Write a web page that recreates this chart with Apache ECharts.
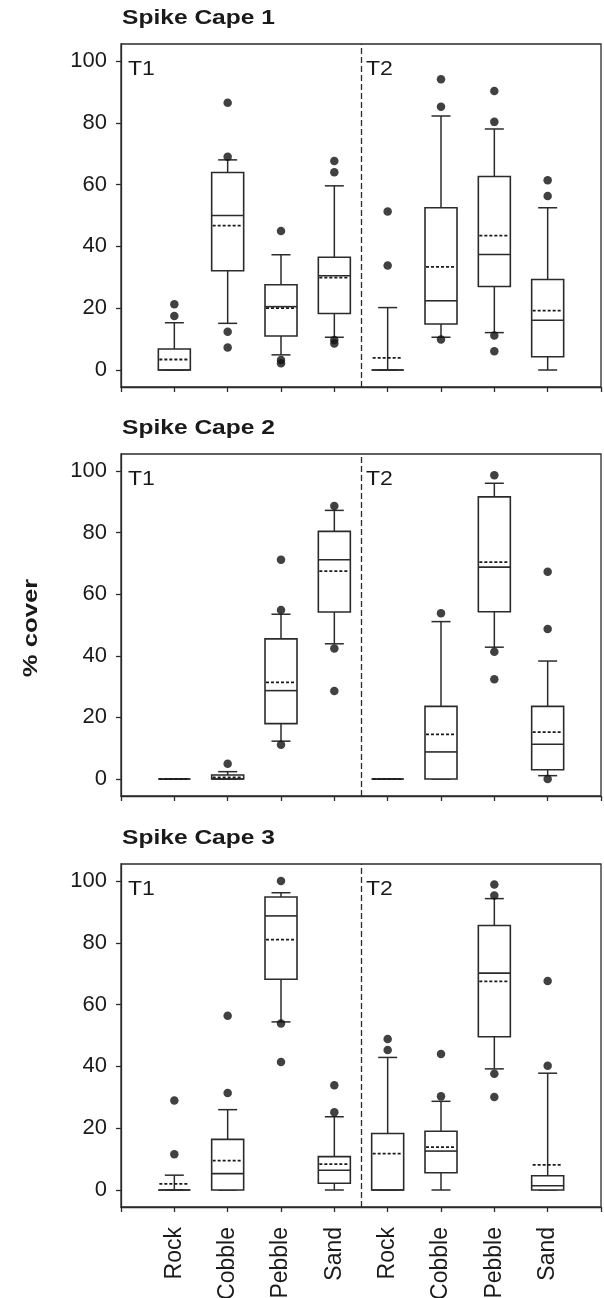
<!DOCTYPE html>
<html>
<head>
<meta charset="utf-8">
<script src="https://cdn.jsdelivr.net/npm/echarts@6/dist/echarts.min.js"></script>
<style>
  html, body { margin: 0; padding: 0; background: #fff; }
  #chart { width: 604px; height: 1298px; }
</style>
</head>
<body>
<div id="chart"></div>
<script>
// ---------- data ----------
const categories = ['Rock', 'Cobble', 'Pebble', 'Sand', 'Rock', 'Cobble', 'Pebble', 'Sand'];
const yTicks = [0, 20, 40, 60, 80, 100];
const panelTitles = ['Spike Cape 1', 'Spike Cape 2', 'Spike Cape 3'];
const groupLabels = ['T1', 'T2'];
const yLabel = '% cover';

// each row: [whiskerLow, q1, median, q3, whiskerHigh, mean]
const cape1Stats = [
  [0, 0, 0, 6.8, 15.3, 3.4],
  [15.1, 32.1, 50.0, 63.9, 68.0, 46.7],
  [4.9, 11.0, 20.5, 27.6, 37.3, 20.0],
  [10.6, 18.3, 30.5, 36.5, 59.6, 29.9],
  [0, 0, 0, 0, 20.2, 3.9],
  [10.6, 14.9, 22.4, 52.5, 82.2, 33.4],
  [12.1, 27.0, 37.4, 62.6, 78.0, 43.5],
  [0, 4.3, 16.1, 29.3, 52.5, 19.2]
];
const cape1Outliers = [
  [17.5, 21.3], [86.5, 69.0, 12.4, 7.3], [45.0, 3.2, 2.2], [67.6, 64.0, 9.7, 8.6],
  [33.8, 51.3], [94.1, 85.2, 9.9], [90.3, 80.3, 11.2, 6.1], [61.4, 56.3]
];

const cape2Stats = [
  [0, 0, 0, 0, 0, 0],
  [0, 0, 0, 1.3, 2.4, 0.5],
  [12.3, 18.0, 28.7, 45.5, 53.5, 31.4],
  [43.9, 54.2, 71.2, 80.4, 87.2, 67.5],
  [0, 0, 0, 0, 0, 0],
  [0, 0, 8.8, 23.6, 51.1, 14.5],
  [42.8, 54.3, 68.8, 91.6, 96.0, 70.4],
  [1.1, 3.0, 11.3, 23.6, 38.3, 15.2]
];
const cape2Outliers = [
  [], [5.0], [71.2, 54.9, 11.1], [88.6, 42.4, 28.6],
  [], [53.8], [98.6, 41.3, 32.4], [67.3, 48.7, 0]
];

const cape3Stats = [
  [0, 0, 0, 0, 4.8, 2.0],
  [0, 0, 5.3, 16.4, 26.0, 9.5],
  [54.4, 68.2, 88.7, 94.8, 96.2, 81.0],
  [0, 2.2, 6.4, 10.8, 23.7, 8.4],
  [0, 0, 0, 18.3, 42.9, 11.8],
  [0, 5.6, 12.6, 19.0, 28.7, 13.9],
  [39.2, 49.6, 70.2, 85.6, 94.3, 67.5],
  [0, 0, 1.4, 4.6, 37.8, 8.1]
];
const cape3Outliers = [
  [29.0, 11.6], [31.4, 56.4], [100, 53.9, 41.4], [33.9, 25.2],
  [45.3, 48.9], [30.3, 44.0], [98.9, 95.3, 37.6, 30.1], [40.2, 67.6]
];

// ---------- layout / styles ----------
const allStats = [cape1Stats, cape2Stats, cape3Stats];
const allOutliers = [cape1Outliers, cape2Outliers, cape3Outliers];
const gridTops = [44, 454, 864];
const gridHeights = [343, 342, 343];
const LINE = '#2b2b2b';
const TEXT = '#1a1a1a';
const FONT = '"Liberation Sans", Arial, Helvetica, sans-serif';

function renderBox(params, api) {
  const x = api.value(0);
  const wl = api.value(1), q1 = api.value(2), md = api.value(3),
        q3 = api.value(4), wh = api.value(5), mn = api.value(6);
  const y = v => api.coord([x, v])[1];
  const px = api.coord([x, 0])[0];
  const hw = 16, cw = 9.5;
  const ls = { stroke: LINE, lineWidth: 1.5, fill: null };
  const children = [];
  const line = (x1, y1, x2, y2, extra) => ({
    type: 'line', shape: { x1, y1, x2, y2 },
    style: Object.assign({}, ls, extra || {})
  });
  // whiskers
  children.push(line(px, y(q3), px, y(wh)));
  children.push(line(px, y(wl), px, y(q1)));
  children.push(line(px - cw, y(wh), px + cw, y(wh)));
  children.push(line(px - cw, y(wl), px + cw, y(wl)));
  // box
  const top = y(q3), bot = y(q1);
  if (bot - top > 0.5) {
    children.push({
      type: 'rect', shape: { x: px - hw, y: top, width: 2 * hw, height: bot - top },
      style: { fill: '#fff', stroke: LINE, lineWidth: 1.6 }
    });
  } else {
    children.push(line(px - hw, top, px + hw, top, { lineWidth: 1.6 }));
  }
  // median
  children.push(line(px - hw, y(md), px + hw, y(md), { lineWidth: 1.6 }));
  // mean (dashed)
  children.push(line(px - hw + 1, y(mn), px + hw - 1, y(mn), { lineDash: [3, 2], lineWidth: 1.8, stroke: '#1a1a1a' }));
  return { type: 'group', children };
}

const grids = [], xAxes = [], yAxes = [], series = [], graphics = [];
for (let p = 0; p < 3; p++) {
  grids.push({
    left: 121, right: 3, top: gridTops[p], height: gridHeights[p],
    show: true, borderColor: LINE, borderWidth: 1.3, backgroundColor: 'transparent',
    outerBoundsMode: 'none', containLabel: false
  });
  xAxes.push({
    gridIndex: p, type: 'value', min: 0, max: 9, interval: 1,
    axisLine: { show: true, onZero: false, lineStyle: { color: LINE, width: 1.3 } },
    axisTick: { show: true, inside: false, length: 5, lineStyle: { color: LINE, width: 1.3 } },
    splitLine: { show: false },
    axisLabel: {
      show: p === 2, rotate: 90, margin: 20, fontSize: 23, fontFamily: FONT, color: TEXT,
      customValues: [1, 2, 3, 4, 5, 6, 7, 8],
      formatter: v => categories[Math.round(v) - 1] || ''
    }
  });
  yAxes.push({
    gridIndex: p, type: 'value', min: -5.5, max: 105.5,
    axisLine: { show: true, onZero: false, lineStyle: { color: LINE, width: 1.3 } },
    axisTick: { show: true, inside: false, length: 5, customValues: yTicks, lineStyle: { color: LINE, width: 1.3 } },
    splitLine: { show: false },
    axisLabel: { show: true, margin: 14, fontSize: 22, fontFamily: FONT, color: TEXT, customValues: yTicks }
  });
  const boxData = allStats[p].map((s, i) => [i + 1].concat(s));
  series.push({
    type: 'custom', xAxisIndex: p, yAxisIndex: p, renderItem: renderBox,
    data: boxData, z: 2, silent: true
  });
  const outData = [];
  allOutliers[p].forEach((arr, i) => arr.forEach(v => outData.push([i + 1, v])));
  series.push({
    type: 'scatter', xAxisIndex: p, yAxisIndex: p, data: outData,
    symbol: 'circle', symbolSize: 8.5, itemStyle: { color: '#111' }, z: 5, silent: true,
    markLine: {
      silent: true, symbol: ['none', 'none'], label: { show: false },
      lineStyle: { color: LINE, type: [6, 3], width: 1.3 },
      data: [{ xAxis: 4.5 }]
    }
  });
  graphics.push({
    type: 'text', x: 122, y: gridTops[p] - 25.5, scaleX: 1.17,
    style: { text: panelTitles[p], font: 'bold 21px ' + FONT, fill: TEXT, align: 'left', verticalAlign: 'middle' }
  });
  graphics.push({
    type: 'text', x: 128, y: gridTops[p] + 25.5, scaleX: 1.1,
    style: { text: groupLabels[0], font: '21px ' + FONT, fill: TEXT, align: 'left', verticalAlign: 'middle' }
  });
  graphics.push({
    type: 'text', x: 366, y: gridTops[p] + 25.5, scaleX: 1.1,
    style: { text: groupLabels[1], font: '21px ' + FONT, fill: TEXT, align: 'left', verticalAlign: 'middle' }
  });
}
graphics.push({
  type: 'text', x: 31, y: 628, rotation: Math.PI / 2, scaleX: 1.22,
  style: { text: yLabel, font: 'bold 21px ' + FONT, fill: TEXT, align: 'center', verticalAlign: 'middle' }
});

const chart = echarts.init(document.getElementById('chart'), null, { renderer: 'canvas' });
chart.setOption({
  animation: false,
  backgroundColor: '#fff',
  grid: grids,
  xAxis: xAxes,
  yAxis: yAxes,
  series: series,
  graphic: graphics
});
</script>
</body>
</html>
